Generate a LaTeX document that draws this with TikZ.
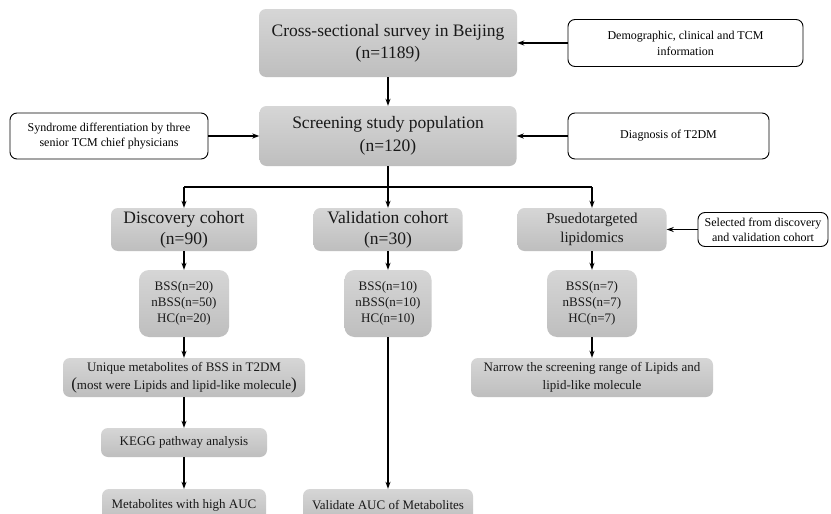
\documentclass[tikz,border=0pt]{standalone}
\usepackage{fontspec}
\setmainfont{Liberation Serif}
\usetikzlibrary{arrows.meta}
\definecolor{gtop}{RGB}{214,214,214}
\definecolor{gbot}{RGB}{190,190,190}
\tikzset{
  graybox/.style={rectangle, rounded corners=7pt, top color=gtop, bottom color=gbot, draw=none, align=center, inner sep=0pt, text=black!90},
  whitebox/.style={rectangle, rounded corners=7pt, fill=white, draw=black, line width=0.9pt, align=center, inner sep=0pt},
  big/.style={font=\fontsize{17.5}{22}\selectfont},
  mid/.style={font=\fontsize{15}{19}\selectfont},
  small/.style={font=\fontsize{13}{17}\selectfont},
  tiny/.style={font=\fontsize{12}{15}\selectfont},
  arr/.style={-{Stealth[length=7pt,width=5pt]}, line width=1.1pt},
  ln/.style={line width=1.1pt}
}
\begin{document}
\begin{tikzpicture}[x=1pt,y=-1pt]
\clip (0,0) rectangle (831,514);
\fill[white] (0,0) rectangle (831,514);
% top row
\node[graybox,big,minimum width=258pt,minimum height=68pt] (top) at (388,43) {Cross-sectional survey in Beijing\\(n=1189)};
\node[whitebox,tiny,minimum width=235pt,minimum height=47pt,font=\fontsize{12}{16}\selectfont] (demo) at (685.5,43) {Demographic, clinical and TCM\\information};
% screening
\node[graybox,big,minimum width=257pt,minimum height=60pt,font=\fontsize{17.5}{23}\selectfont] (screen) at (388,136) {Screening study population\\(n=120)};
\node[whitebox,tiny,minimum width=198pt,minimum height=46pt] (synd) at (109,136) {Syndrome differentiation by three\\senior TCM chief physicians};
\node[whitebox,tiny,minimum width=201pt,minimum height=46pt] (diag) at (668.5,136) {Diagnosis of T2DM};
% cohorts
\node[graybox,big,minimum width=146pt,minimum height=43pt,font=\fontsize{17.5}{21}\selectfont] (disc) at (184,229.5) {Discovery cohort\\(n=90)};
\node[graybox,big,minimum width=149pt,minimum height=43pt,font=\fontsize{17.5}{21}\selectfont] (val) at (388,229.5) {Validation cohort\\(n=30)};
\node[graybox,mid,minimum width=149pt,minimum height=43pt] (psu) at (592,229.5) {Psuedotargeted\\lipidomics};
\node[whitebox,tiny,minimum width=130pt,minimum height=34pt] (sel) at (763,229.5) {Selected from discovery\\and validation cohort};
% groups
\node[graybox,small,rounded corners=10pt,minimum width=90pt,minimum height=67pt,font=\fontsize{13}{16}\selectfont] (b1) at (184,303.5) {BSS(n=20)\\nBSS(n=50)\\HC(n=20)};
\node[graybox,small,rounded corners=10pt,minimum width=87pt,minimum height=67pt,font=\fontsize{13}{16}\selectfont] (b2) at (388,303.5) {BSS(n=10)\\nBSS(n=10)\\HC(n=10)};
\node[graybox,small,rounded corners=10pt,minimum width=90pt,minimum height=67pt,font=\fontsize{13}{16}\selectfont] (b3) at (592,303.5) {BSS(n=7)\\nBSS(n=7)\\HC(n=7)};
% results
\node[graybox,small,minimum width=242pt,minimum height=39pt,font=\fontsize{13}{18}\selectfont] (uniq) at (184,377.5) {Unique metabolites of BSS in T2DM\\{\fontsize{17}{18}\selectfont(}most were Lipids and lipid-like molecule{\fontsize{17}{18}\selectfont)}};
\node[graybox,small,minimum width=242pt,minimum height=39pt,font=\fontsize{13}{18}\selectfont] (narrow) at (592,377.5) {Narrow the screening range of Lipids and\\lipid-like molecule};
\node[graybox,small,minimum width=166pt,minimum height=29pt] (kegg) at (184,442.5) {KEGG pathway analysis};
\node[graybox,small,minimum width=164pt,minimum height=32pt] (met) at (184,505) {Metabolites with high AUC};
\node[graybox,small,minimum width=170pt,minimum height=32pt] (valid) at (388,505) {Validate AUC of Metabolites};
% connectors
\draw[arr] (demo.west) -- (top.east);
\draw[arr] (top.south) -- (screen.north);
\draw[arr] (synd.east) -- (screen.west);
\draw[arr] (diag.west) -- (screen.east);
\coordinate (sp) at (388,187);
\draw[ln] (screen.south) -- (sp);
\draw[ln] (disc.north |- sp) -- (psu.north |- sp);
\draw[arr] (disc.north |- sp) -- (disc.north);
\draw[arr] (sp) -- (val.north);
\draw[arr] (psu.north |- sp) -- (psu.north);
\draw[arr] (sel.west) -- (psu.east);
\draw[arr] (disc.south) -- (b1.north);
\draw[arr] (val.south) -- (b2.north);
\draw[arr] (psu.south) -- (b3.north);
\draw[arr] (b1.south) -- (uniq.north);
\draw[arr] (uniq.south) -- (kegg.north);
\draw[arr] (kegg.south) -- (met.north);
\draw[arr] (b2.south) -- (valid.north);
\draw[arr] (b3.south) -- (narrow.north);
\end{tikzpicture}
\end{document}
